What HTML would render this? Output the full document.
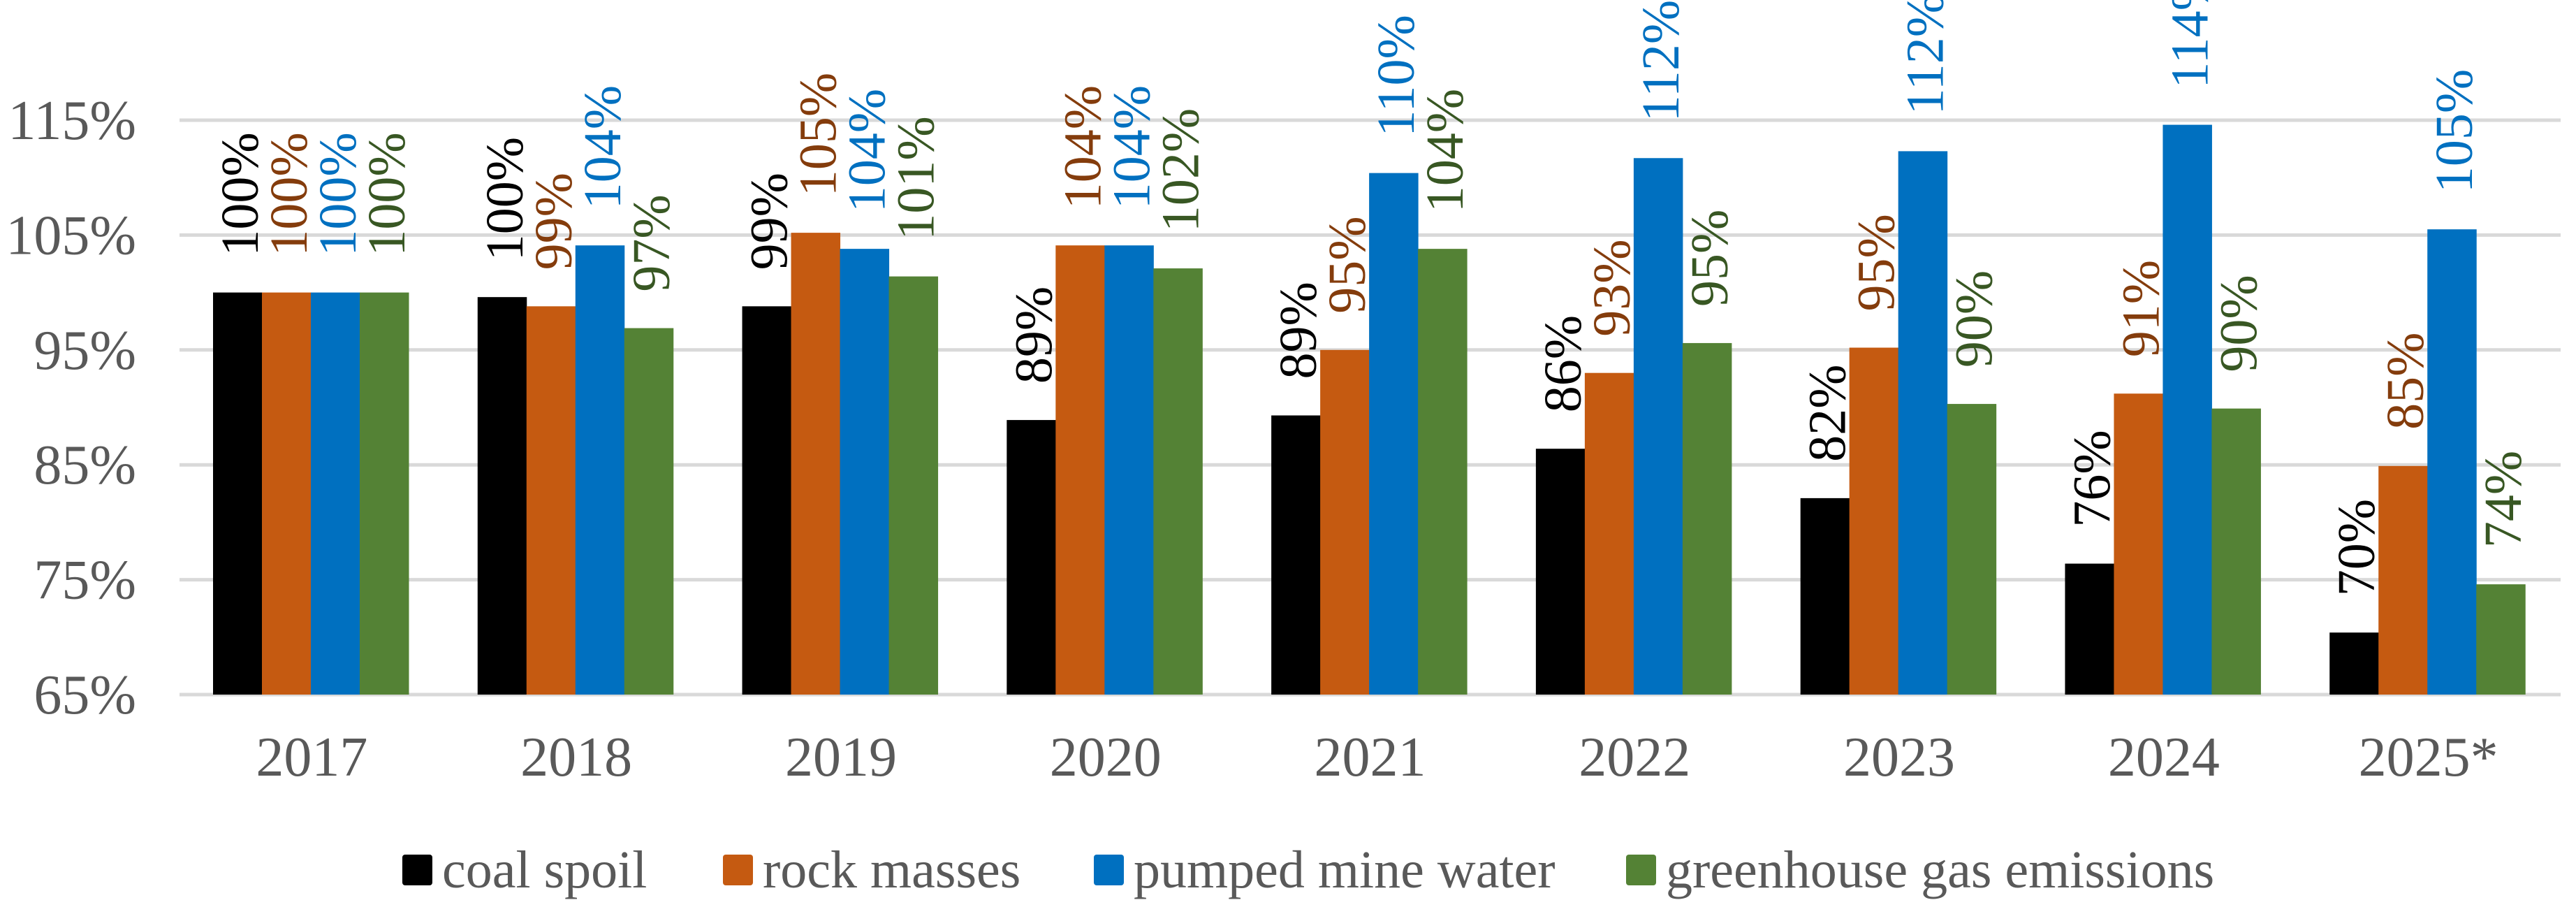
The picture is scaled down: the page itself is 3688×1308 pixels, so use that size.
<!DOCTYPE html>
<html><head><meta charset="utf-8"><style>
html,body{margin:0;padding:0;background:#fff;}
svg{display:block;font-family:"Liberation Serif",serif;}
</style></head><body>
<svg id="chart" width="3688" height="1308" viewBox="0 0 3688 1308" xmlns="http://www.w3.org/2000/svg">
<g id="grid"></g>
<g id="yticks"></g>
<g id="bars"></g>
<g id="labels"></g>
<g id="xticks"></g>
<g id="legend"></g>
</svg>
<script>
const categories = ["2017","2018","2019","2020","2021","2022","2023","2024","2025*"];
const seriesNames = ["coal spoil","rock masses","pumped mine water","greenhouse gas emissions"];
const coalSpoil = [100,99.6,98.8,88.9,89.3,86.4,82.1,76.4,70.4];
const rockMasses = [100,98.8,105.2,104.1,95.0,93.0,95.2,91.2,84.9];
const pumpedWater = [100,104.1,103.8,104.1,110.4,111.7,112.3,114.6,105.5];
const ghgEmissions = [100,96.9,101.4,102.1,103.8,95.6,90.3,89.9,74.6];
const coalLabels = ["100%","100%","99%","89%","89%","86%","82%","76%","70%"];
const rockLabels = ["100%","99%","105%","104%","95%","93%","95%","91%","85%"];
const pumpLabels = ["100%","104%","104%","104%","110%","112%","112%","114%","105%"];
const ghgLabels = ["100%","97%","101%","102%","104%","95%","90%","90%","74%"];
const yTicks = [65,75,85,95,105,115];

const NS="http://www.w3.org/2000/svg";
const plotL=257, plotR=3666, yMin=65, y0=994, pxPer=16.44;
const catW=(plotR-plotL)/categories.length, barW=70, groupOff=48;
const fill=["#000000","#C55A11","#0070C0","#548235"];
const lblCol=["#000000","#843C0C","#0070C0","#385723"];
const series=[coalSpoil,rockMasses,pumpedWater,ghgEmissions];
const labels=[coalLabels,rockLabels,pumpLabels,ghgLabels];
const yS=v=>y0-(v-yMin)*pxPer;
function mk(tag,attrs,parent){const e=document.createElementNS(NS,tag);for(const k in attrs)e.setAttribute(k,attrs[k]);parent.appendChild(e);return e;}

const grid=document.getElementById('grid'), yt=document.getElementById('yticks');
yTicks.forEach(t=>{
  const l=mk('line',{x1:plotL,x2:plotR,y1:yS(t),y2:yS(t),stroke:'#D9D9D9','stroke-width':5},grid);
  
  
  const tx=mk('text',{x:195,y:yS(t)+27,'text-anchor':'end','font-size':80,fill:'#595959'},yt);
  tx.textContent=t+"%";
  
  
});
const bars=document.getElementById('bars'), lg=document.getElementById('labels'), xt=document.getElementById('xticks');
categories.forEach((c,i)=>{
  const gx=plotL+i*catW+groupOff;
  series.forEach((s,j)=>{
    const x=gx+j*barW, top=yS(s[i]);
    const r=mk('rect',{x:x,y:top,width:barW+0.5,height:y0-top,fill:fill[j]},bars);
    
    
    const cx=x+barW/2+29, ty=top-52;
    const t=mk('text',{x:cx,y:ty,transform:`rotate(-90 ${cx} ${ty})`,'font-size':76,fill:lblCol[j]},lg);
    t.textContent=labels[j][i];
    
    
  });
  const xl=mk('text',{x:plotL+(i+0.5)*catW,y:1110,'text-anchor':'middle','font-size':80,fill:'#595959'},xt);
  xl.textContent=c;
  
  
});
const leg=document.getElementById('legend');
const legX=[576,1035,1566,2328];
seriesNames.forEach((n,j)=>{
  const r=mk('rect',{x:legX[j],y:1223,width:43,height:44,rx:4,fill:fill[j]},leg);
  
  
  const t=mk('text',{x:legX[j]+57,y:1270,'font-size':76,fill:'#595959'},leg);
  t.textContent=n;
  
  
});
</script>
</body></html>
